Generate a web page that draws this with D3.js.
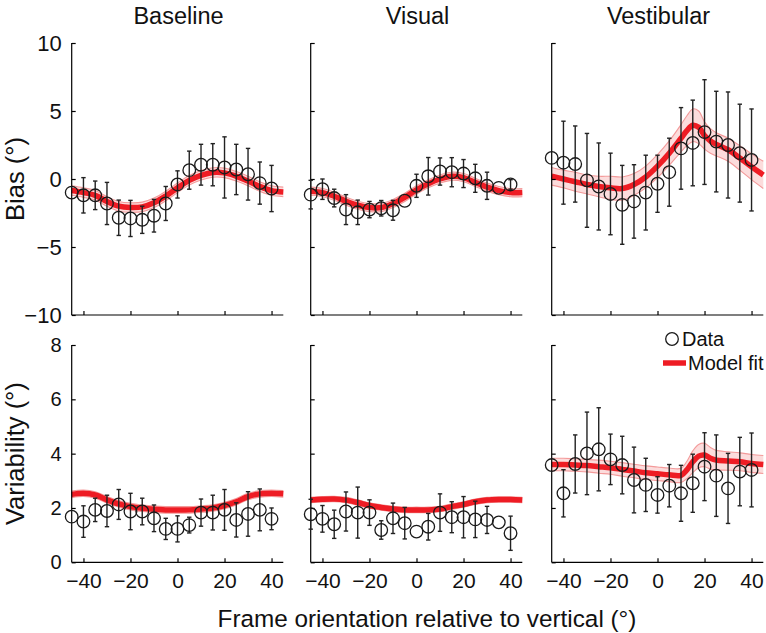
<!DOCTYPE html>
<html>
<head>
<meta charset="utf-8">
<script src="https://cdn.jsdelivr.net/npm/d3@7"></script>
<style>
  html, body { margin: 0; padding: 0; background: #fff; }
  svg { display: block; font-family: "Liberation Sans", Arial, Helvetica, sans-serif; }
</style>
</head>
<body>
<svg id="chart" width="766" height="633"></svg>
<script>
// ---------------- DATA ----------------
const columns = ["Baseline", "Visual", "Vestibular"];
const rowLabels = ["Bias (°)", "Variability (°)"];
const xTicks = [-40, -20, 0, 20, 40];
const biasTicks = [-10, -5, 0, 5, 10];
const varTicks = [0, 2, 4, 6, 8];
const xLabel = "Frame orientation relative to vertical (°)";

// data points (frame orientation, deg)
const xs = [-45,-40,-35,-30,-25,-20,-15,-10,-5,0,5,10,15,20,25,30,35,40];

const biasBaseline    = [-1.0,-1.2,-1.2,-1.8,-2.85,-2.9,-3.0,-2.7,-1.8,-0.4,0.65,1.05,1.05,0.85,0.7,0.35,-0.3,-0.7];
const biasBaselineErr = [0,1.3,1.05,1.55,1.3,1.33,1.0,1.2,1.25,1.0,1.4,1.5,1.55,2.25,1.85,1.9,1.55,1.7];
const biasVisual      = [-1.15,-0.75,-1.4,-2.25,-2.45,-2.25,-2.15,-2.3,-1.6,-0.5,0.2,0.55,0.5,0.4,0.05,-0.5,-0.65,-0.4];
const biasVisualErr   = [1.05,0.75,0.65,1.1,0.9,0.6,0.57,0.73,0,0.85,1.38,1.0,1.07,1.03,1.03,1.0,0,0.35];
const biasVest        = [1.55,1.2,1.1,-0.1,-0.55,-1.1,-1.9,-1.65,-1.0,-0.35,0.5,2.25,2.65,3.45,2.75,2.5,1.9,1.4];
const biasVestErr     = [0,3.05,2.8,3.45,3.2,3.0,2.9,2.7,2.75,2.1,2.5,3.0,3.15,3.85,3.7,3.9,3.6,3.75];

const varBaseline     = [1.68,1.5,1.93,1.89,2.13,1.87,1.87,1.62,1.23,1.23,1.37,1.83,1.83,1.93,1.56,1.78,1.93,1.6];
const varBaselineErr  = [0,0.58,0.43,0.58,0.55,0.67,0.49,0.49,0.39,0.48,0.29,0.5,0.64,0.75,0.63,0.82,0.77,0.4];
const varVisual       = [1.77,1.6,1.4,1.87,1.83,1.83,1.19,1.62,1.44,1.13,1.31,1.83,1.66,1.66,1.58,1.56,1.47,1.07];
const varVisualErr    = [0.55,0.49,0.52,0.72,0.94,0.47,0.34,0.56,0.58,0,0.49,0.69,0.57,0.76,0.67,0.5,0,0.63];
const varVest         = [3.58,2.54,3.62,4.01,4.16,3.79,3.58,3.03,2.85,2.48,2.82,2.54,2.91,3.52,3.19,2.72,3.34,3.4];
const varVestErr      = [0,0.87,1.07,1.52,1.53,0.93,1.06,1.21,0.98,0.67,0.78,1.03,1.07,1.25,1.5,1.29,1.26,1.36];

// model fits
const fitX  = [-45,-40,-35,-30,-25,-20,-15,-10,-5,0,5,10,15,20,25,30,35,40,45];
const fitXV = [-45,-40,-35,-30,-25,-20,-15,-10,-5,0,5,10,12.5,15,17.5,20,22.5,25,30,35,40,45];

const fitBiasBaseline   = [-0.85,-1.0,-1.2,-1.65,-2.0,-2.1,-2.05,-1.75,-1.25,-0.65,-0.1,0.27,0.48,0.45,0.2,-0.15,-0.55,-0.85,-0.95];
const fitBiasBaselineHW = [0.35,0.35,0.35,0.35,0.35,0.35,0.35,0.35,0.35,0.35,0.35,0.35,0.35,0.35,0.35,0.35,0.35,0.35,0.35];
const fitBiasVisual     = [-0.9,-1.0,-1.27,-1.63,-1.93,-2.1,-2.1,-1.8,-1.35,-0.8,-0.35,0.0,0.2,0.1,-0.25,-0.6,-0.85,-1.0,-1.0];
const fitBiasVisualHW   = [0.3,0.3,0.3,0.3,0.3,0.3,0.3,0.3,0.3,0.3,0.3,0.3,0.3,0.3,0.3,0.3,0.3,0.3,0.3];
const fitBiasVest       = [0.2,0.0,-0.2,-0.4,-0.55,-0.65,-0.7,-0.4,0.15,0.95,1.9,3.0,3.55,3.95,3.8,3.2,2.8,2.55,2.15,1.55,0.9,0.3];
const fitBiasVestHW     = [0.65,0.65,0.7,0.7,0.75,0.85,0.85,0.8,0.8,0.85,0.9,1.0,1.1,1.2,1.2,1.0,0.9,0.85,0.85,0.9,0.95,1.0];

const fitVarBaseline    = [2.5,2.54,2.48,2.3,2.15,2.05,1.99,1.95,1.93,1.93,1.93,1.96,2.0,2.09,2.23,2.42,2.52,2.54,2.52];
const fitVarBaselineHW  = [0.12,0.12,0.12,0.12,0.12,0.12,0.12,0.12,0.12,0.12,0.12,0.12,0.12,0.12,0.12,0.12,0.12,0.12,0.12];
const fitVarVisual      = [2.29,2.32,2.33,2.29,2.2,2.09,2.02,1.96,1.93,1.93,1.93,1.96,2.05,2.13,2.23,2.29,2.31,2.31,2.29];
const fitVarVisualHW    = [0.1,0.1,0.1,0.1,0.1,0.1,0.1,0.1,0.1,0.1,0.1,0.1,0.1,0.1,0.1,0.1,0.1,0.1,0.1];
const fitVarVest        = [3.6,3.6,3.58,3.56,3.52,3.48,3.42,3.36,3.3,3.26,3.22,3.2,3.4,3.7,3.91,3.95,3.83,3.76,3.73,3.7,3.64,3.6];
const fitVarVestHW      = [0.23,0.23,0.23,0.23,0.24,0.24,0.25,0.25,0.25,0.25,0.25,0.26,0.32,0.4,0.43,0.43,0.4,0.36,0.34,0.33,0.33,0.33];

const legendLabels = ["Data", "Model fit"];

// ---------------- LAYOUT ----------------
const panels = [
  {row:0,col:0,y:biasBaseline,e:biasBaselineErr,fx:fitX, f:fitBiasBaseline,hw:fitBiasBaselineHW},
  {row:0,col:1,y:biasVisual,  e:biasVisualErr,  fx:fitX, f:fitBiasVisual,  hw:fitBiasVisualHW},
  {row:0,col:2,y:biasVest,    e:biasVestErr,    fx:fitXV,f:fitBiasVest,    hw:fitBiasVestHW},
  {row:1,col:0,y:varBaseline, e:varBaselineErr, fx:fitX, f:fitVarBaseline, hw:fitVarBaselineHW},
  {row:1,col:1,y:varVisual,   e:varVisualErr,   fx:fitX, f:fitVarVisual,   hw:fitVarVisualHW},
  {row:1,col:2,y:varVest,     e:varVestErr,     fx:fitXV,f:fitVarVest,     hw:fitVarVestHW}
];
const colX0 = [71.7, 310.7, 551.7];
const panelW = 211.6;
const rowY = [[43, 315], [345, 562.3]];
const yDomains = [[-10, 10], [0, 8]];
const yTickSets = [biasTicks, varTicks];

const RED = "#ee1c24";
const BAND = "#fbd3d3";
const BAND_EDGE = "#f39a9a";

const svg = d3.select("#chart");

panels.forEach(p => {
  const x = d3.scaleLinear().domain([-45, 45]).range([colX0[p.col], colX0[p.col] + panelW]);
  const y = d3.scaleLinear().domain(yDomains[p.row]).range([rowY[p.row][1], rowY[p.row][0]]);
  const g = svg.append("g");

  // band
  const bandData = p.fx.map((v, i) => ({x: v, c: p.f[i], lo: p.f[i] - p.hw[i], hi: p.f[i] + p.hw[i]}));
  const curve = d3.curveCatmullRom.alpha(0.5);
  g.append("path").datum(bandData)
    .attr("d", d3.area().x(d => x(d.x)).y0(d => y(d.lo)).y1(d => y(d.hi)).curve(curve))
    .attr("fill", BAND).attr("fill-opacity", 0.8);
  ["lo", "hi"].forEach(k => {
    g.append("path").datum(bandData)
      .attr("d", d3.line().x(d => x(d.x)).y(d => y(d[k])).curve(curve))
      .attr("fill", "none").attr("stroke", BAND_EDGE).attr("stroke-width", 1.1);
  });
  g.append("path").datum(bandData)
    .attr("d", d3.line().x(d => x(d.x)).y(d => y(d.c)).curve(curve))
    .attr("fill", "none").attr("stroke", RED).attr("stroke-width", 5.5);

  // axes
  const yAxis = d3.axisLeft(y).tickValues(yTickSets[p.row]).tickSize(-4).tickPadding(10)
    .tickFormat(p.col === 0 ? (d => String(d).replace("-", "\u2212")) : (() => ""));
  const ya = g.append("g").attr("transform", `translate(${colX0[p.col]},0)`).call(yAxis);
  ya.select(".domain").attr("d", `M0,${rowY[p.row][0]}V${rowY[p.row][1]}`).attr("stroke", "#000").attr("stroke-width", 1.2);
  ya.selectAll(".tick line").attr("stroke", "#000").attr("stroke-width", 1.2);
  ya.selectAll(".tick text").attr("font-size", p.row === 0 ? 22 : 20).attr("fill", "#111")
    .attr("font-family", "Liberation Sans, Arial, sans-serif");

  const xAxis = d3.axisBottom(x).tickValues(xTicks).tickSize(-4).tickPadding(11)
    .tickFormat(p.row === 1 ? (d => String(d).replace("-", "\u2212")) : (() => ""));
  const xa = g.append("g").attr("transform", `translate(0,${rowY[p.row][1]})`).call(xAxis);
  xa.select(".domain").attr("d", `M${colX0[p.col]},0H${colX0[p.col] + panelW}`).attr("stroke", "#000").attr("stroke-width", 1.2);
  xa.selectAll(".tick line").attr("stroke", "#000").attr("stroke-width", 1.2);
  xa.selectAll(".tick text").attr("font-size", 21).attr("fill", "#111")
    .attr("font-family", "Liberation Sans, Arial, sans-serif");

  // error bars
  const pts = xs.map((v, i) => ({x: v, y: p.y[i], e: p.e[i]}));
  const eb = g.append("g").attr("stroke", "#222").attr("stroke-width", 1.4).attr("fill", "none");
  pts.filter(d => d.e > 0).forEach(d => {
    const cx = x(d.x), y1 = y(d.y + d.e), y2 = y(d.y - d.e);
    eb.append("line").attr("x1", cx).attr("x2", cx).attr("y1", y1).attr("y2", y2);
    eb.append("line").attr("x1", cx - 2.2).attr("x2", cx + 2.2).attr("y1", y1).attr("y2", y1);
    eb.append("line").attr("x1", cx - 2.2).attr("x2", cx + 2.2).attr("y1", y2).attr("y2", y2);
  });

  // circles
  g.append("g").selectAll("circle").data(pts).join("circle")
    .attr("cx", d => x(d.x)).attr("cy", d => y(d.y)).attr("r", 6.3)
    .attr("fill", "none").attr("stroke", "#1a1a1a").attr("stroke-width", 1.3);
});

// column titles
columns.forEach((t, i) => {
  svg.append("text").attr("x", colX0[i] + panelW / 2 + 1).attr("y", 24)
    .attr("text-anchor", "middle").attr("font-size", 23.5).attr("fill", "#111").text(t);
});

// row labels
rowLabels.forEach((t, i) => {
  const cy = (rowY[i][0] + rowY[i][1]) / 2;
  svg.append("text").attr("transform", `translate(24,${cy}) rotate(-90)`)
    .attr("text-anchor", "middle").attr("font-size", 25.5).attr("fill", "#111").text(t);
});

// x label
svg.append("text").attr("x", 427).attr("y", 627).attr("text-anchor", "middle")
  .attr("font-size", 24.3).attr("fill", "#111").text(xLabel);

// legend
const lg = svg.append("g");
lg.append("circle").attr("cx", 672).attr("cy", 339).attr("r", 6.3)
  .attr("fill", "none").attr("stroke", "#1a1a1a").attr("stroke-width", 1.3);
lg.append("text").attr("x", 682).attr("y", 346).attr("font-size", 20).attr("fill", "#111").text(legendLabels[0]);
lg.append("line").attr("x1", 663).attr("x2", 686).attr("y1", 363).attr("y2", 363)
  .attr("stroke", RED).attr("stroke-width", 5.5);
lg.append("text").attr("x", 688).attr("y", 370).attr("font-size", 20).attr("fill", "#111").text(legendLabels[1]);
</script>
</body>
</html>
